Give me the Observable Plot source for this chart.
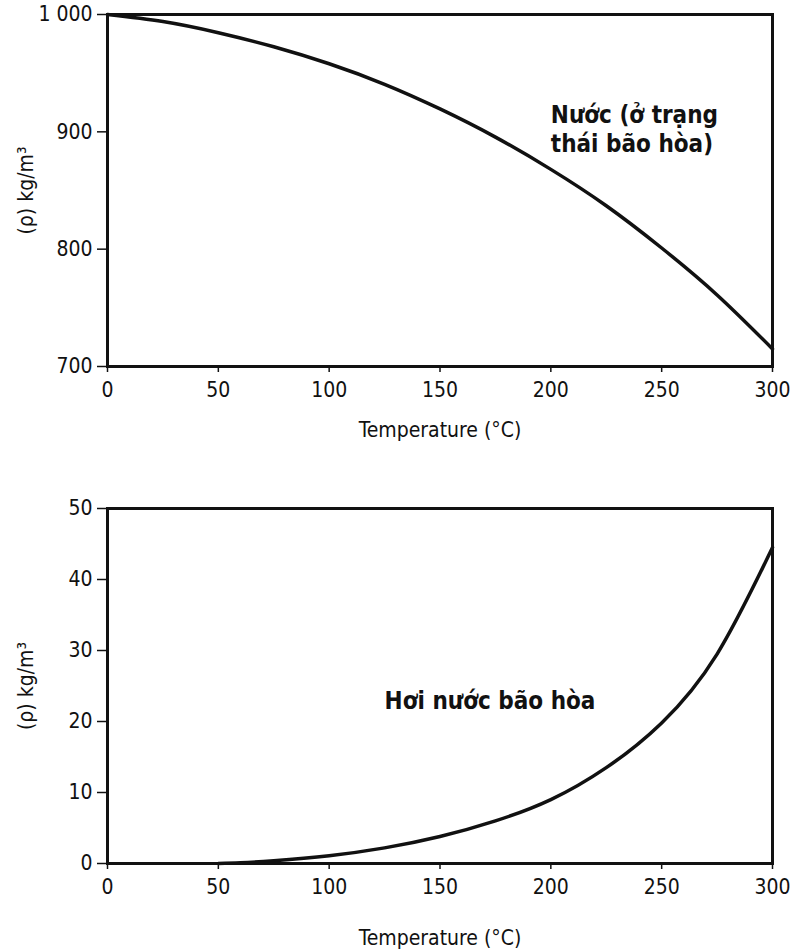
<!DOCTYPE html>
<html>
<head>
<meta charset="utf-8">
<script src="https://cdn.jsdelivr.net/npm/d3@7"></script>
<script src="https://cdn.jsdelivr.net/npm/@observablehq/plot@0.6"></script>
<style>
  html, body { margin: 0; padding: 0; background: #fff; }
  #chart svg { display: block; }
</style>
</head>
<body>
<div id="chart"></div>
<script>
// ---- data ----
const waterTemps = [0, 25, 50, 75, 100, 125, 150, 175, 200, 225, 250, 275, 300];
const waterDensity = [1000, 994, 984.5, 972.5, 958, 940.5, 919.5, 895.5, 868, 837, 801, 761, 715];
const steamTemps = [50, 60, 75, 100, 125, 150, 175, 200, 225, 250, 275, 300];
const steamDensity = [0, 0.1, 0.4, 1.1, 2.2, 3.8, 6.0, 9.0, 13.5, 19.8, 29.5, 44.5];
const xTicks = [0, 50, 100, 150, 200, 250, 300];
const waterYTicks = [700, 800, 900, 1000];
const steamYTicks = [0, 10, 20, 30, 40, 50];
const xLabel = "Temperature (°C)";
const yLabel = "(ρ) kg/m³";
const waterNote = ["Nước (ở trạng\nthái bão hòa)"];
const waterNoteX = [200];
const waterNoteY = [903];
const steamNote = ["Hơi nước bão hòa"];
const steamNoteX = [125];
const steamNoteY = [23];

const FONT = "'Liberation Sans Narrow', 'Arial Narrow', 'DejaVu Sans Condensed', sans-serif";
const yFmt = d => d === 1000 ? "1 000" : String(d);

function chart({temps, dens, yDomain, yTicks, height, marginTop, marginBottom, labelOffsetX, note, noteX, noteY}) {
  const pts = temps.map((t, i) => ({t, v: dens[i]}));
  const notes = note.map((s, i) => ({s, x: noteX[i], y: noteY[i]}));
  return Plot.plot({
    width: 791,
    height,
    marginLeft: 107,
    marginRight: 19,
    marginTop,
    marginBottom,
    style: {fontFamily: FONT, fontSize: "21px", color: "#111", background: "#fff"},
    x: {domain: [0, 300]},
    y: {domain: yDomain},
    marks: [
      Plot.axisX(xTicks, {tickSize: 6, tickPadding: 10, fontSize: 21, label: xLabel, labelAnchor: "center", labelOffset: labelOffsetX, labelArrow: "none", strokeWidth: 1.5}),
      Plot.axisY(yTicks, {tickSize: 10, tickPadding: 5, fontSize: 21, tickFormat: yFmt, label: yLabel, labelAnchor: "center", labelOffset: 89, labelArrow: "none", strokeWidth: 1.5}),
      Plot.frame({stroke: "#111", strokeWidth: 3}),
      Plot.line(pts, {x: "t", y: "v", curve: "natural", stroke: "#111", strokeWidth: 3.5}),
      Plot.text(notes, {x: "x", y: "y", text: "s", textAnchor: "start", fontWeight: "bold", fontSize: 24, lineHeight: 1.2, fill: "#111"})
    ]
  });
}

const el = document.getElementById("chart");
el.append(chart({
  temps: waterTemps, dens: waterDensity, yDomain: [700, 1000], yTicks: waterYTicks,
  height: 460, marginTop: 14, marginBottom: 94, labelOffsetX: 70,
  note: waterNote, noteX: waterNoteX, noteY: waterNoteY
}));
el.append(chart({
  temps: steamTemps, dens: steamDensity, yDomain: [0, 50], yTicks: steamYTicks,
  height: 490, marginTop: 48, marginBottom: 87, labelOffsetX: 81,
  note: steamNote, noteX: steamNoteX, noteY: steamNoteY
}));
</script>
</body>
</html>
